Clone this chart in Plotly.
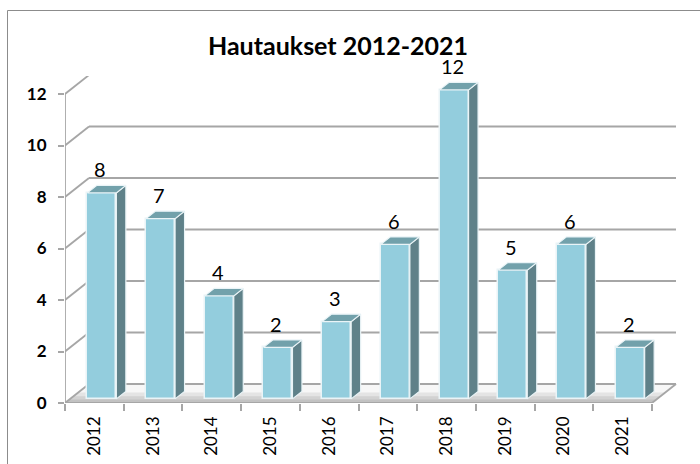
import plotly.graph_objects as go

# ---- data ----
years = ["2012", "2013", "2014", "2015", "2016", "2017", "2018", "2019", "2020", "2021"]
values = [8, 7, 4, 2, 3, 6, 12, 5, 6, 2]
y_ticks = [0, 2, 4, 6, 8, 10, 12]
title_text = "Hautaukset 2012-2021"

# ---- style / geometry constants ----
FONT = "Lato"
FRONT = "#93CDDD"
SIDE = "#5F8189"
TOP = "#72A1AB"
EDGE = "#EAF4F7"
GRID = "#A6A6A6"

PX_CAT = 58.7      # pixels per category
PX_UNIT = 25.75    # pixels per value unit
L, R, T, B = 65, 23, 76, 61
W, H = 700, 464

DX = 24 / PX_CAT   # wall depth in data units
DY = 19 / PX_UNIT
FX = 0.128         # bar front plane offset
FY = 0.16
BW = 0.494         # bar width
BDX = 9.5 / PX_CAT # bar depth
BDY = 7.5 / PX_UNIT

n = len(years)
xs = list(range(n))
x_lo, x_hi = -0.5, n - 0.5
x_range = [x_lo, x_lo + (W - L - R) / PX_CAT]
y_range = [0, (H - T - B) / PX_UNIT]

fig = go.Figure()

shapes = []
# floor fill
shapes.append(dict(type="path", layer="below", xref="x", yref="y",
                   path=f"M {x_lo},0 L {x_hi},0 L {x_hi+DX},{DY} L {x_lo+DX},{DY} Z",
                   fillcolor="#F7F7F7", line=dict(width=0)))
# floor shadow bands (darker toward front)
for a, b, col in [(0.0, 0.55, "#E4E4E4"), (0.0, 0.35, "#D2D2D2"), (0.0, 0.18, "#C2C2C2")]:
    shapes.append(dict(type="path", layer="below", xref="x", yref="y",
                       path=(f"M {x_lo+a*DX},{a*DY} L {x_hi+a*DX},{a*DY} "
                             f"L {x_hi+b*DX},{b*DY} L {x_lo+b*DX},{b*DY} Z"),
                       fillcolor=col, line=dict(width=0)))
# gridlines on back wall + side wall diagonals
for v in y_ticks:
    shapes.append(dict(type="line", layer="below", xref="x", yref="y",
                       x0=x_lo, y0=v, x1=x_lo + DX, y1=v + DY,
                       line=dict(color=GRID, width=1.8)))
    shapes.append(dict(type="line", layer="below", xref="x", yref="y",
                       x0=x_lo + DX, y0=v + DY, x1=x_hi + DX, y1=v + DY,
                       line=dict(color=GRID, width=1.8)))
# floor front & right edge
shapes.append(dict(type="line", layer="below", xref="x", yref="y",
                   x0=x_lo, y0=0, x1=x_hi, y1=0, line=dict(color=GRID, width=1.8)))
shapes.append(dict(type="line", layer="below", xref="x", yref="y",
                   x0=x_hi, y0=0, x1=x_hi + DX, y1=DY, line=dict(color=GRID, width=1.8)))
# front vertical axis line
shapes.append(dict(type="line", layer="below", xref="x", yref="y",
                   x0=x_lo, y0=0, x1=x_lo, y1=max(y_ticks), line=dict(color=GRID, width=1.8)))
# outer chart border
pw, ph = W - L - R, H - T - B
shapes.append(dict(type="rect", layer="below", xref="paper", yref="paper",
                   x0=(7.5 - L) / pw, x1=(W + 20 - L) / pw,
                   y0=(H - 490 - B) / ph, y1=(H - 10.5 - B) / ph,
                   line=dict(color="#8C8C8C", width=1), fillcolor="rgba(0,0,0,0)"))

# front faces as bars
fig.add_trace(go.Bar(
    x=[x + FX for x in xs], y=values, base=FY, width=BW,
    marker=dict(color=FRONT, line=dict(color=EDGE, width=1.5)),
    hoverinfo="skip", showlegend=False))

# side and top faces
for x, v in zip(xs, values):
    xr = x + FX + BW / 2
    xl = x + FX - BW / 2
    top = FY + v
    fig.add_trace(go.Scatter(
        x=[xr, xr + BDX, xr + BDX, xr, xr], y=[FY, FY + BDY, top + BDY, top, FY],
        mode="lines", fill="toself", fillcolor=SIDE,
        line=dict(color=EDGE, width=1.2), hoverinfo="skip", showlegend=False))
    fig.add_trace(go.Scatter(
        x=[xl, xr, xr + BDX, xl + BDX, xl], y=[top, top, top + BDY, top + BDY, top],
        mode="lines", fill="toself", fillcolor=TOP,
        line=dict(color=EDGE, width=1.2), hoverinfo="skip", showlegend=False))

# data labels
for x, v in zip(xs, values):
    fig.add_annotation(x=x + 0.1, y=v + FY + BDY, text=str(v), showarrow=False,
                       yanchor="bottom", yshift=2,
                       font=dict(family=FONT, size=20, color="#000000"))

fig.update_layout(
    width=W, height=H,
    margin=dict(l=L, r=R, t=T, b=B, autoexpand=False),
    paper_bgcolor="white", plot_bgcolor="white",
    shapes=shapes,
    bargap=0,
    title=dict(text=title_text, x=338 / W, xanchor="center", y=1 - 46 / H, yanchor="middle",
               xref="container", yref="container",
               font=dict(family=FONT, size=25, color="#000000", weight="bold")),
    xaxis=dict(range=x_range, tickvals=xs, ticktext=years, tickangle=-90,
               ticks="", showgrid=False, zeroline=False, showline=False,
               ticklabelstandoff=9,
               tickfont=dict(family=FONT, size=17, color="#000000"),
               minor=dict(tickvals=[x - 0.5 for x in xs] + [x_hi], ticks="outside",
                          ticklen=7, tickcolor=GRID, tickwidth=1.5, showgrid=False)),
    yaxis=dict(range=y_range, tickvals=y_ticks, ticks="outside", ticklen=6,
               tickcolor=GRID, tickwidth=1.5, showgrid=False, zeroline=False, showline=False,
               ticklabelstandoff=8,
               tickfont=dict(family=FONT, size=17, color="#000000", weight="bold")),
)

fig.write_html("out.html", config={"displayModeBar": False},
               post_script="document.body.style.margin='0';")
